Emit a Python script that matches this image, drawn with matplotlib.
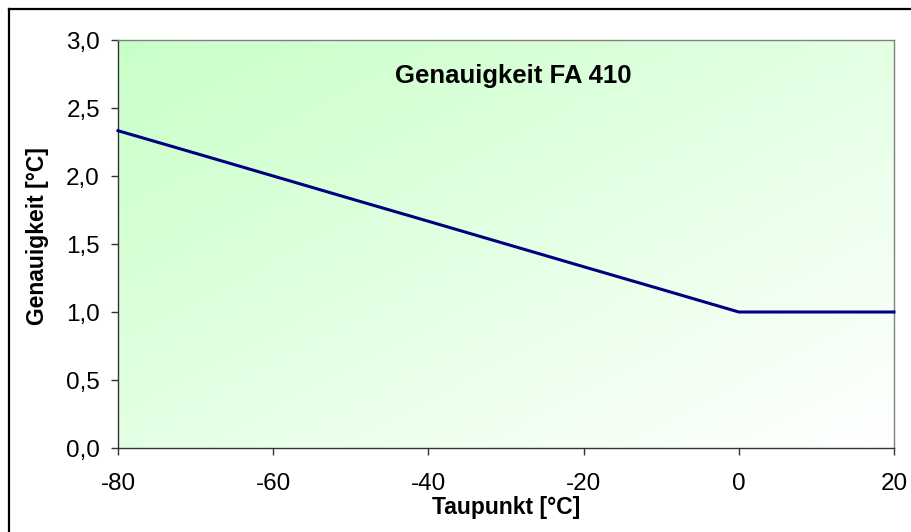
import numpy as np
import matplotlib.pyplot as plt
from matplotlib.lines import Line2D
from matplotlib.colors import LinearSegmentedColormap

# dew point [°C] vs. accuracy [°C]
taupunkt = [-80, -70, -60, -50, -40, -30, -20, -10, 0, 10, 20]
genauigkeit = [2.333, 2.167, 2.0, 1.833, 1.667, 1.5, 1.333, 1.167, 1.0, 1.0, 1.0]

x_ticks = [-80, -60, -40, -20, 0, 20]
y_ticks = [0.0, 0.5, 1.0, 1.5, 2.0, 2.5, 3.0]

plt.rcParams['font.family'] = ['Liberation Sans', 'DejaVu Sans']

W, H = 911, 532
fig = plt.figure(figsize=(W / 100, H / 100), dpi=100)
ax = fig.add_axes([118 / W, 1 - 448 / H, (894 - 118) / W, (448 - 40) / H])

# diagonal green -> white background like the Excel fill
gx, gy = np.meshgrid(np.linspace(0, 1, 300), np.linspace(0, 1, 300))
grad = np.clip((gx + gy) / 2, 0, 1)
cmap = LinearSegmentedColormap.from_list('gw', ['#c8ffc8', '#ffffff'])
ax.imshow(grad, cmap=cmap, extent=[0, 1, 0, 1], origin='upper',
          transform=ax.transAxes, aspect='auto', zorder=0, interpolation='bilinear')

ax.plot(taupunkt, genauigkeit, color='#000080', lw=2.2, zorder=3, clip_on=False)

ax.set_xlim(-80, 20)
ax.set_ylim(0, 3)
ax.set_xticks(x_ticks)
ax.set_yticks(y_ticks)
ax.set_yticklabels([f'{v:.1f}'.replace('.', ',') for v in y_ticks])
ax.set_xticklabels([str(v) for v in x_ticks])
ax.tick_params(axis='both', labelsize=17.5, length=5, width=1, color='#333333')
ax.tick_params(axis='y', pad=8)
ax.tick_params(axis='x', pad=13)

for side in ['top', 'right']:
    ax.spines[side].set_color('#808080')
    ax.spines[side].set_linewidth(1)
for side in ['left', 'bottom']:
    ax.spines[side].set_color('#333333')
    ax.spines[side].set_linewidth(1)

ax.text(0.509, 0.912, 'Genauigkeit FA 410', transform=ax.transAxes,
        ha='center', va='center', fontsize=18.5, fontweight='bold')
ax.set_xlabel('Taupunkt [°C]', fontsize=16.5, fontweight='bold', labelpad=1)
ax.set_ylabel('Genauigkeit [°C]', fontsize=16.5, fontweight='bold')
ax.yaxis.set_label_coords(-0.089, 0.52)

# chart frame (only left and top edges are inside the crop)
fig.add_artist(Line2D([9 / W, 9 / W], [0, 1 - 9 / H], transform=fig.transFigure,
                      color='black', lw=1.6))
fig.add_artist(Line2D([9 / W, 1], [1 - 9 / H, 1 - 9 / H], transform=fig.transFigure,
                      color='black', lw=1.6))

fig.savefig('out.png', dpi=100)
